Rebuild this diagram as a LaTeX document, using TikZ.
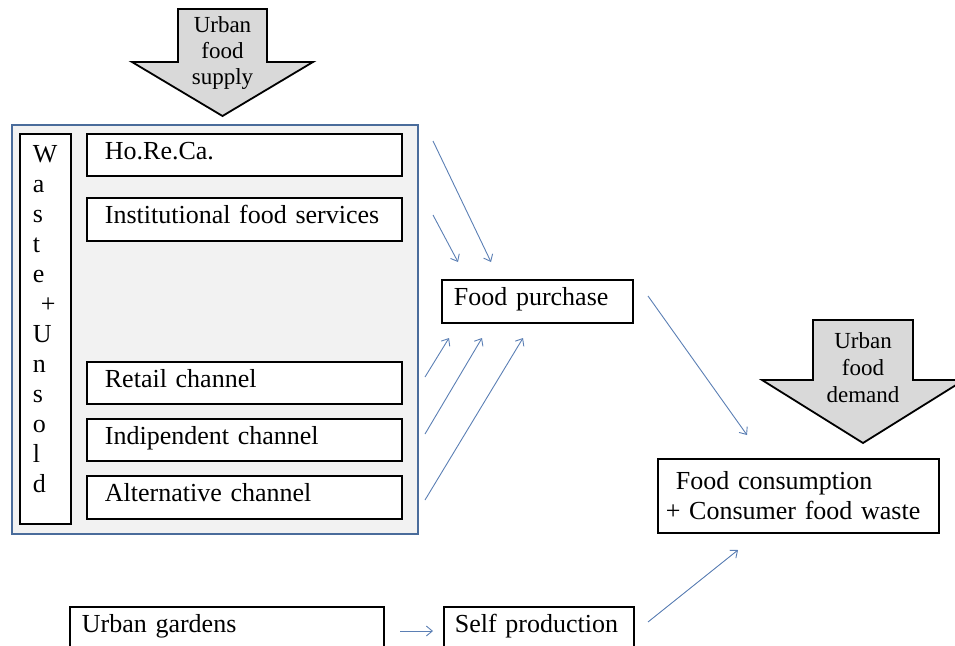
\documentclass[tikz,border=0pt]{standalone}
\usepackage{fontspec}
\setmainfont{Liberation Serif}
\usetikzlibrary{arrows.meta}
\definecolor{frameblue}{HTML}{4A6C9B}
\definecolor{arrowblue}{HTML}{5B7FB4}
\definecolor{panelgray}{HTML}{F2F2F2}
\definecolor{bigarrowgray}{HTML}{D9D9D9}
\newcommand\mainfs{\fontsize{26}{30}\selectfont}
\newcommand\supfs{\fontsize{23}{26}\selectfont}
\newcommand\demfs{\fontsize{23}{27}\selectfont}
\begin{document}
\begin{tikzpicture}[x=1pt,y=-1pt,
  box/.style={draw=black, line width=1.8pt, fill=white, anchor=north west,
    inner ysep=0pt, align=left, text height=0.9em, text depth=0.05em, font=\mainfs},
  tallbox/.style={draw=black, line width=1.8pt, fill=white, anchor=north west,
    inner ysep=0pt, align=left, font=\mainfs},
  bigarrow/.style={draw=black, line width=1.8pt, fill=bigarrowgray, line join=miter},
  arrowtext/.style={align=center, inner sep=0pt},
  flow/.style={draw=arrowblue, line width=0.9pt, -{Straight Barb[length=6pt,width=10pt]}}
]
\path[use as bounding box] (0,0) rectangle (955,645);
\clip (0,0) rectangle (955,645);

% supply arrow
\draw[bigarrow] (178,9) -- (267,9) -- (267,62) -- (313,62) -- (222.5,116) -- (132,62) -- (178,62) -- cycle;
\node[arrowtext, font=\supfs] (supply) at (222.5,53.5) {Urban\\food\\supply};

% panel
\node[draw=frameblue, line width=1.8pt, fill=panelgray, anchor=north west,
  minimum width=406pt, minimum height=409pt, inner sep=0pt] (panel) at (11,124) {};

\node[tallbox, minimum width=51pt, minimum height=390pt, inner xsep=13pt, text width=25pt] (waste) at (19,133)
  {W\\a\\s\\t\\e\\\hspace*{8pt}+\\U\\n\\s\\o\\l\\d\rule[-19pt]{0pt}{19pt}};

\node[box, minimum width=315pt, minimum height=42pt, inner xsep=18pt, text width=279pt] (horeca) at (86,133) {Ho.Re.Ca.};
\node[box, minimum width=315pt, minimum height=43pt, inner xsep=18pt, text width=279pt] (inst) at (86,197) {Institutional food services};
\node[box, minimum width=315pt, minimum height=42pt, inner xsep=18pt, text width=279pt] (retail) at (86,361) {Retail channel};
\node[box, minimum width=315pt, minimum height=42pt, inner xsep=18pt, text width=279pt] (indip) at (86,418) {Indipendent channel};
\node[box, minimum width=315pt, minimum height=43pt, inner xsep=18pt, text width=279pt] (alt) at (86,475) {Alternative channel};

% food purchase
\node[box, minimum width=191pt, minimum height=43pt, inner xsep=12pt, text width=167pt] (purchase) at (441,279) {Food purchase};

% demand arrow
\draw[bigarrow] (813,320) -- (913,320) -- (913,380) -- (964,380) -- (863,443) -- (762,380) -- (813,380) -- cycle;
\node[arrowtext, font=\demfs] (demand) at (863,367.2) {Urban\\food\\demand};

% consumption
\node[tallbox, minimum width=281pt, minimum height=74pt, inner xsep=8pt, text width=265pt] (consumption) at (657,458)
  {\hspace*{10pt}Food consumption\\+ Consumer food waste};

% bottom
\node[box, minimum width=314pt, minimum height=43pt, inner xsep=12pt, text width=290pt] (gardens) at (69,606) {Urban gardens};
\node[box, minimum width=190pt, minimum height=43pt, inner xsep=11pt, text width=168pt] (self) at (443,606) {Self production};

% connector ends
\coordinate (hA) at (433,141); \coordinate (hB) at (491,262);
\coordinate (iA) at (433,215); \coordinate (iB) at (458,262);
\coordinate (rA) at (425,377); \coordinate (rB) at (449,338);
\coordinate (dA) at (425,434); \coordinate (dB) at (482,338);
\coordinate (aA) at (425,500); \coordinate (aB) at (523,338);
\coordinate (pA) at (648,296); \coordinate (pB) at (747,435);
\coordinate (gA) at (400,631); \coordinate (gB) at (433,631);
\coordinate (sA) at (648,622); \coordinate (sB) at (738,550);

\draw[flow] (hA) -- (hB);
\draw[flow] (iA) -- (iB);
\draw[flow] (rA) -- (rB);
\draw[flow] (dA) -- (dB);
\draw[flow] (aA) -- (aB);
\draw[flow] (pA) -- (pB);
\draw[flow] (gA) -- (gB);
\draw[flow] (sA) -- (sB);
\end{tikzpicture}
\end{document}
